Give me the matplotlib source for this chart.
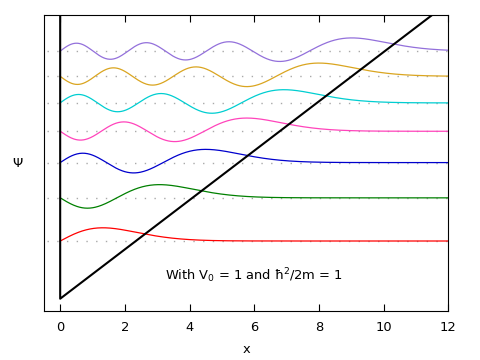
import numpy as np
import matplotlib
matplotlib.use('Agg')
import matplotlib.pyplot as plt

# energy levels (V0 = 1, hbar^2/2m = 1)
energies = [2.34, 4.09, 5.52, 6.79, 7.94, 9.02, 10.04]
colors = ['red', 'green', 'mediumblue', '#ff44bb', 'darkturquoise',
          'goldenrod', 'mediumpurple']
xticks = [0, 2, 4, 6, 8, 10, 12]


def airy_ai(x):
    # power series for Ai(x), fine for |x| < ~12
    c1 = 0.355028053887817
    c2 = 0.258819403792807
    x = np.asarray(x, dtype=float)
    x3 = x ** 3
    t = np.ones_like(x)
    u = x.copy()
    f = t.copy()
    g = u.copy()
    for k in range(80):
        t = t * x3 / ((3 * k + 2) * (3 * k + 3))
        u = u * x3 / ((3 * k + 3) * (3 * k + 4))
        f += t
        g += u
    return c1 * f - c2 * g


fig = plt.figure(figsize=(4.8, 3.6), dpi=100)
ax = fig.add_axes([0.0917, 0.136, 0.842, 0.822])

x = np.linspace(0, 12, 600)
for E, c in zip(energies, colors):
    ax.plot([-0.4, 12], [E, E], color='darkgray', lw=1, ls=(0, (1, 6)), zorder=1)
    ax.plot(x, E + airy_ai(x - E), color=c, lw=0.9, zorder=2)

# potential: hard wall at x=0, linear ramp V = x
ax.plot([0, 0, 12], [12, 0, 12], color='black', lw=1.5, zorder=3)

ax.text(6, 0.93, 'With V$_0$ = 1 and ħ$^2$/2m = 1', ha='center', va='center',
        fontsize=9.4)

ax.set_xlim(-0.5, 12)
ax.set_ylim(-0.5, 11.5)
ax.set_xticks(xticks)
ax.set_yticks([])
ax.tick_params(axis='x', direction='in', top=True, labelsize=9.4, length=5,
               pad=7)
ax.set_xlabel('x', fontsize=9.4, labelpad=7)
ax.set_ylabel('Ψ', fontsize=9.4, rotation=0, va='center', labelpad=19)

fig.savefig('out.png', dpi=100)
